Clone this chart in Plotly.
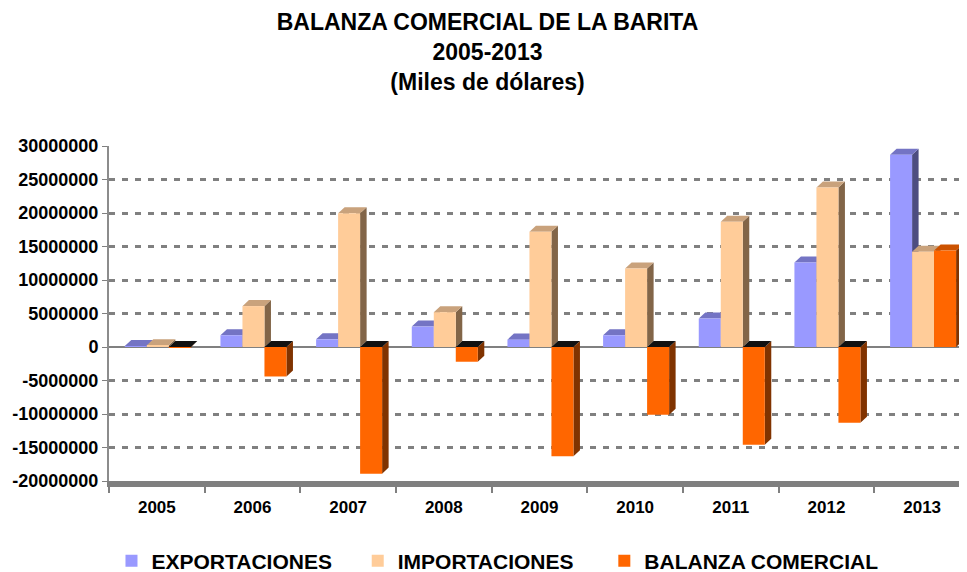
import plotly.graph_objects as go

# ---- data ----
years = ["2005", "2006", "2007", "2008", "2009", "2010", "2011", "2012", "2013"]
exportaciones = [150000, 1750000, 1150000, 3050000, 1100000, 1750000, 4250000, 12600000, 28700000]
importaciones = [250000, 6100000, 19950000, 5200000, 17200000, 11700000, 18700000, 23800000, 14200000]
balanza = [-100000, -4400000, -18900000, -2200000, -16300000, -10100000, -14600000, -11300000, 14400000]
series_names = ["EXPORTACIONES", "IMPORTACIONES", "BALANZA COMERCIAL"]
y_tick_values = [-20000000, -15000000, -10000000, -5000000, 0, 5000000, 10000000, 15000000, 20000000, 25000000, 30000000]
y_tick_labels = ["-20000000", "-15000000", "-10000000", "-5000000", "0", "5000000", "10000000", "15000000", "20000000", "25000000", "30000000"]

# ---- style ----
front_colors = ["#9999FF", "#FFCC99", "#FF6600"]
side_colors = ["#4D4D80", "#826548", "#803300"]
top_colors = ["#7474C4", "#C9A27C", "#CC5200"]
neg_top_color = "#111111"
bar_w = 0.23
offsets = [-0.335, -0.105, 0.125]
dx = 0.068          # depth in category units
dy = 900000         # depth in value units
legend_ids = ["legend", "legend2", "legend3"]
legend_x = [0.0029, 0.2899, 0.5773]

FONT = "Liberation Sans, Arial, sans-serif"
all_values = [exportaciones, importaciones, balanza]
xs = list(range(len(years)))

fig = go.Figure()

# 3D faces (drawn on the base subplot, under the fronts)
for s, vals in enumerate(all_values):
    sx, sy, tx, ty, nx, ny = [], [], [], [], [], []
    for i, v in zip(xs, vals):
        x0 = i + offsets[s]
        x1 = x0 + bar_w
        top = max(v, 0)
        bot = min(v, 0)
        sx += [x1, x1 + dx, x1 + dx, x1, x1, None]
        sy += [top, top + dy, bot + dy, bot, top, None]
        fx = [x0, x1, x1 + dx, x0 + dx, x0, None]
        fy = [top, top, top + dy, top + dy, top, None]
        if v >= 0:
            tx += fx; ty += fy
        else:
            nx += fx; ny += fy
    fig.add_trace(go.Scatter(x=sx, y=sy, fill="toself", mode="lines", line=dict(width=0),
                             fillcolor=side_colors[s], showlegend=False, hoverinfo="skip"))
    if tx:
        fig.add_trace(go.Scatter(x=tx, y=ty, fill="toself", mode="lines", line=dict(width=0),
                                 fillcolor=top_colors[s], showlegend=False, hoverinfo="skip"))
    if nx:
        fig.add_trace(go.Scatter(x=nx, y=ny, fill="toself", mode="lines", line=dict(width=0),
                                 fillcolor=neg_top_color, showlegend=False, hoverinfo="skip"))

# front faces on an overlaying subplot so they sit above the faces
for s, vals in enumerate(all_values):
    fig.add_trace(go.Bar(x=xs, y=vals, name=series_names[s], width=bar_w, offset=offsets[s],
                         marker=dict(color=front_colors[s], line=dict(width=0)),
                         xaxis="x2", yaxis="y2", legend=legend_ids[s]))

xr = [-0.5, 8.469]
yr = [-20000000, 30000000]

legend_common = dict(orientation="h", xanchor="left",
                     y=1 - 553 / 572, yref="container", yanchor="middle",
                     font=dict(family=FONT, size=21, color="black", weight="bold"),
                     itemclick=False, itemdoubleclick=False)

fig.update_layout(
    width=959, height=572,
    barmode="overlay",
    paper_bgcolor="white", plot_bgcolor="white",
    margin=dict(l=101, r=0, t=138, b=99),
    font=dict(family=FONT, color="black"),
    title=dict(text="<b>BALANZA COMERCIAL DE LA BARITA<br>2005-2013<br>(Miles de dólares)</b>",
               x=0.5, xref="container", xanchor="center",
               y=1 - 22 / 572, yref="container", yanchor="top",
               font=dict(family=FONT, size=23, color="black")),
    xaxis=dict(range=xr, tickvals=xs, ticktext=years, showgrid=False, zeroline=False,
               automargin=False, ticklabelstandoff=6,
               showline=True, linecolor="#7F7F7F", linewidth=6,
               ticks="", tickfont=dict(family=FONT, size=17, color="black", weight="bold"),
               minor=dict(tickvals=[i + 0.5 for i in range(-1, len(years))], ticks="outside",
                          ticklen=6, tickwidth=2, tickcolor="#808080", showgrid=False)),
    yaxis=dict(range=yr, tickvals=y_tick_values, ticktext=y_tick_labels, automargin=False,
               showgrid=True, gridcolor="#808080", gridwidth=3, griddash="6px,7px",
               zeroline=True, zerolinecolor="#808080", zerolinewidth=2,
               showline=True, linecolor="#8C8C8C", linewidth=2,
               ticks="outside", ticklen=5, tickwidth=1, tickcolor="#808080",
               tickfont=dict(family=FONT, size=18, color="black", weight="bold")),
    xaxis2=dict(range=xr, overlaying="x", visible=False),
    yaxis2=dict(range=yr, overlaying="y", visible=False),
    legend=dict(x=legend_x[0], **legend_common),
    legend2=dict(x=legend_x[1], **legend_common),
    legend3=dict(x=legend_x[2], **legend_common),
    showlegend=True,
)

fig.write_html("out.html", config={"displayModeBar": False})
